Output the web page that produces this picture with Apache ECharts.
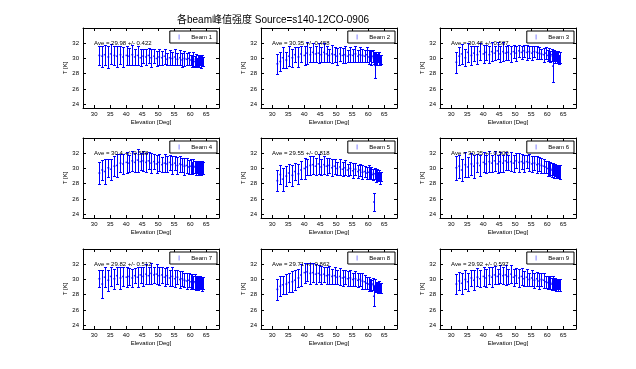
<!DOCTYPE html>
<html><head><meta charset="utf-8">
<script src="https://cdn.jsdelivr.net/npm/echarts@6/dist/echarts.min.js"></script>
<style>html,body{margin:0;padding:0;background:#fff}#c{width:636px;height:369px}</style>
</head><body><div id="c"></div>
<script>
const titleText = '各beam峰值强度 Source=s140-12CO-0906';
const xTicks = [30, 35, 40, 45, 50, 55, 60, 65];
const yTicks = [24, 26, 28, 30, 32];
const beamNames = ['Beam 1','Beam 2','Beam 3','Beam 4','Beam 5','Beam 6','Beam 7','Beam 8','Beam 9'];
const aveTexts = ['Ave = 29.98 +/- 0.422','Ave = 30.35 +/- 0.458','Ave = 30.46 +/- 0.507',
  'Ave = 30.4 +/- 0.558','Ave = 29.55 +/- 0.818','Ave = 30.35 +/- 0.500',
  'Ave = 29.82 +/- 0.512','Ave = 29.71 +/- 0.862','Ave = 29.92 +/- 0.597'];

const elevation = [31.6, 32.5, 33.3, 34.4, 35.2, 36.3, 37.1, 38.2, 39.0, 40.1,
  40.9, 41.9, 42.7, 43.6, 44.5, 45.3, 46.2, 47.0, 47.8, 48.7,
  49.5, 50.3, 51.2, 52.0, 52.8, 53.6, 54.4, 55.2, 56.0, 56.8, 57.5, 58.2,
  58.9, 59.5, 60.1, 60.6, 61.0, 61.4, 61.8, 62.1, 62.4, 62.7, 63.0, 63.3, 63.6, 63.9];

const beam1Center = [30.4, 30.3, 30.5, 30.2, 30.6, 30.4, 30.3, 30.5, 30.2, 30.4,
  30.3, 30.5, 30.2, 30.4, 30.1, 30.3, 30.2, 30.4, 30.1, 30.3,
  30.0, 30.2, 30.1, 30.3, 29.9, 30.1, 30.0, 30.2, 29.9, 30.1, 29.8, 30.0,
  29.9, 30.0, 29.8, 29.7, 29.9, 29.6, 29.8, 29.5, 29.7, 29.6, 29.8, 29.5, 29.7, 29.6];
const beam1Err = [1.2, 1.4, 1.3, 1.5, 1.3, 1.2, 1.4, 1.2, 1.3, 1.2,
  1.1, 1.3, 1.0, 1.2, 1.1, 0.9, 1.1, 1.0, 1.2, 0.9,
  1.0, 1.1, 0.9, 1.0, 0.8, 1.0, 0.9, 1.1, 0.8, 1.0, 0.9, 1.0,
  0.8, 0.9, 0.7, 0.8, 0.9, 0.7, 0.8, 0.6, 0.8, 0.7, 0.6, 0.8, 0.7, 0.6];

const beam2Center = [29.3, 29.6, 30.1, 29.8, 30.3, 30.1, 30.5, 30.2, 30.6, 30.4,
  30.7, 30.5, 30.8, 30.6, 30.7, 30.5, 30.8, 30.6, 30.4, 30.6,
  30.5, 30.3, 30.6, 30.4, 30.5, 30.3, 30.5, 30.4, 30.6, 30.3, 30.5, 30.4,
  30.3, 30.5, 30.2, 30.4, 30.1, 30.3, 30.0, 29.1, 30.1, 29.9, 30.2, 30.0, 29.8, 29.9];
const beam2Err = [1.3, 1.2, 1.4, 1.1, 1.3, 1.2, 1.0, 1.3, 1.1, 1.2,
  1.4, 1.0, 1.2, 1.1, 1.3, 1.0, 1.2, 1.1, 0.9, 1.2,
  1.0, 1.1, 0.9, 1.0, 1.1, 0.8, 1.0, 0.9, 1.1, 0.8, 1.0, 0.9,
  0.8, 1.0, 0.9, 0.7, 0.9, 0.8, 0.7, 1.7, 0.8, 0.7, 0.6, 0.8, 0.7, 0.6];

const beam3Center = [29.5, 30.3, 30.6, 30.1, 30.8, 30.4, 30.7, 30.5, 30.9, 30.6,
  30.8, 30.5, 30.9, 30.7, 31.0, 30.6, 30.9, 30.7, 30.8, 30.6,
  30.9, 30.7, 31.0, 30.8, 31.0, 30.8, 30.9, 30.7, 30.9, 30.8, 30.7, 30.6,
  30.5, 30.7, 30.4, 30.6, 30.3, 30.5, 29.0, 30.4, 30.2, 30.3, 30.1, 30.2, 29.9, 30.1];
const beam3Err = [1.4, 1.2, 1.3, 1.1, 1.2, 1.3, 1.0, 1.2, 1.1, 1.2,
  1.0, 1.1, 1.2, 0.9, 1.1, 1.0, 1.2, 0.9, 1.0, 1.1,
  0.9, 1.0, 0.8, 0.9, 0.8, 1.0, 0.8, 0.9, 0.7, 0.9, 0.8, 0.7,
  0.9, 0.8, 0.7, 0.8, 0.7, 0.8, 2.1, 0.7, 0.8, 0.6, 0.7, 0.8, 0.6, 0.7];

const beam4Center = [29.4, 29.8, 29.6, 30.1, 29.9, 30.3, 30.4, 30.7, 30.6, 30.8,
  30.7, 31.0, 30.8, 31.1, 30.9, 31.0, 30.8, 31.0, 30.7, 30.9,
  30.6, 30.8, 30.5, 30.7, 30.6, 30.8, 30.5, 30.7, 30.4, 30.6, 30.5, 30.3,
  30.4, 30.2, 30.3, 30.1, 30.3, 30.2, 30.1, 30.2, 30.0, 30.2, 30.1, 30.0, 30.2, 30.1];
const beam4Err = [1.5, 1.3, 1.6, 1.2, 1.4, 1.3, 1.5, 1.2, 1.3, 1.4,
  1.1, 1.3, 1.2, 1.5, 1.1, 1.3, 1.2, 1.1, 1.3, 1.0,
  1.2, 1.1, 1.0, 1.2, 1.1, 1.0, 1.2, 0.9, 1.1, 1.0, 0.9, 1.1,
  1.0, 0.9, 1.0, 0.8, 0.9, 0.8, 0.9, 0.8, 0.9, 0.8, 0.8, 0.9, 0.8, 0.8];

const beam5Center = [28.4, 29.2, 28.6, 29.0, 29.4, 29.1, 29.6, 29.3, 29.8, 30.0,
  30.2, 30.4, 30.5, 30.3, 30.6, 30.2, 30.5, 30.3, 30.4, 30.1,
  30.3, 30.0, 30.2, 29.9, 30.1, 29.8, 30.0, 29.7, 29.9, 29.6, 29.8, 29.5,
  29.6, 29.4, 29.5, 29.3, 29.4, 29.2, 25.6, 29.3, 29.0, 29.2, 28.9, 29.1, 28.8, 29.0];
const beam5Err = [1.4, 1.2, 1.5, 1.3, 1.2, 1.4, 1.1, 1.3, 1.2, 1.4,
  1.1, 1.3, 1.2, 1.1, 1.3, 1.0, 1.2, 1.1, 1.0, 1.1,
  1.0, 0.9, 1.0, 0.9, 1.0, 0.8, 0.9, 1.0, 0.8, 0.9, 0.8, 0.9,
  0.7, 0.8, 0.9, 0.7, 0.8, 0.7, 1.2, 0.7, 0.8, 0.7, 0.6, 0.7, 0.8, 0.6];

const beam6Center = [30.1, 30.3, 29.8, 30.5, 30.2, 30.6, 30.3, 30.7, 30.4, 30.8,
  30.6, 30.9, 30.7, 31.0, 30.6, 30.9, 30.7, 31.0, 30.8, 30.9,
  30.7, 31.0, 30.8, 30.9, 30.7, 30.9, 30.8, 30.6, 30.7, 30.5, 30.6, 30.4,
  30.3, 30.2, 30.0, 29.9, 30.0, 29.8, 29.9, 29.7, 29.8, 29.6, 29.7, 29.6, 29.7, 29.5];
const beam6Err = [1.6, 1.5, 1.4, 1.6, 1.3, 1.4, 1.5, 1.2, 1.4, 1.3,
  1.2, 1.4, 1.1, 1.3, 1.2, 1.3, 1.1, 1.2, 1.0, 1.2,
  1.1, 1.0, 1.2, 1.0, 1.1, 0.9, 1.1, 1.0, 0.9, 1.1, 0.9, 1.0,
  0.9, 0.8, 1.0, 0.9, 0.8, 0.9, 0.8, 0.9, 0.8, 0.9, 0.8, 0.9, 0.8, 0.9];

const beam7Center = [30.1, 29.4, 30.3, 29.9, 30.4, 30.1, 30.5, 30.2, 30.4, 30.3,
  30.4, 30.2, 30.5, 30.3, 30.6, 30.4, 30.7, 30.5, 30.8, 30.6,
  30.7, 30.5, 30.6, 30.3, 30.5, 30.2, 30.4, 30.1, 30.3, 30.0, 30.1, 29.9,
  29.8, 29.9, 29.7, 29.8, 29.6, 29.7, 29.5, 29.6, 29.5, 29.7, 29.6, 29.5, 29.4, 29.5];
const beam7Err = [1.1, 1.8, 1.3, 1.4, 1.2, 1.3, 1.1, 1.4, 1.2, 1.3,
  1.1, 1.2, 1.0, 1.3, 1.1, 1.2, 1.3, 1.1, 1.4, 1.1,
  1.3, 1.2, 1.0, 1.2, 1.1, 1.0, 1.2, 1.1, 0.9, 1.1, 1.0, 0.9,
  1.0, 0.9, 1.0, 0.9, 0.8, 1.0, 0.9, 0.8, 0.9, 0.8, 0.9, 0.8, 0.9, 0.8];

const beam8Center = [28.7, 29.1, 29.3, 29.4, 29.6, 29.7, 29.9, 30.2, 30.6, 30.9,
  31.0, 30.8, 30.9, 30.7, 30.8, 30.6, 30.7, 30.5, 30.6, 30.4,
  30.5, 30.3, 30.4, 30.2, 30.3, 30.1, 30.2, 30.0, 30.1, 29.9, 30.0, 29.8,
  29.7, 29.5, 29.4, 29.3, 29.2, 29.4, 27.8, 29.2, 29.0, 29.1, 28.9, 29.0, 28.8, 28.9];
const beam8Err = [1.4, 1.3, 1.2, 1.3, 1.2, 1.4, 1.3, 1.2, 1.4, 1.3,
  1.2, 1.4, 1.2, 1.3, 1.1, 1.2, 1.0, 1.1, 1.2, 1.0,
  1.1, 0.9, 1.1, 1.0, 0.9, 1.0, 1.1, 0.9, 1.0, 0.9, 0.8, 1.0,
  0.9, 0.8, 0.9, 0.8, 0.7, 0.8, 1.3, 0.8, 0.7, 0.6, 0.7, 0.8, 0.6, 0.7];

const beam9Center = [29.4, 29.8, 29.5, 30.0, 29.7, 30.2, 29.9, 30.3, 30.1, 30.4,
  30.2, 30.5, 30.3, 30.6, 30.4, 30.7, 30.5, 30.6, 30.4, 30.7,
  30.3, 30.5, 30.2, 30.4, 30.1, 30.3, 30.0, 30.2, 29.9, 30.1, 29.8, 30.0,
  29.9, 29.7, 29.6, 29.5, 29.6, 29.4, 29.5, 29.4, 29.5, 29.3, 29.4, 29.3, 29.4, 29.3];
const beam9Err = [1.3, 1.2, 1.4, 1.3, 1.2, 1.1, 1.3, 1.2, 1.1, 1.3,
  1.2, 1.1, 1.3, 1.2, 1.0, 1.2, 1.1, 1.3, 1.0, 1.2,
  1.1, 1.0, 1.2, 1.1, 1.0, 1.1, 0.9, 1.1, 1.0, 0.9, 1.0, 0.9,
  1.0, 0.8, 0.9, 0.8, 0.9, 0.8, 0.9, 0.8, 0.7, 0.8, 0.7, 0.8, 0.7, 0.8];

const centers = [beam1Center, beam2Center, beam3Center, beam4Center, beam5Center, beam6Center, beam7Center, beam8Center, beam9Center];
const errs = [beam1Err, beam2Err, beam3Err, beam4Err, beam5Err, beam6Err, beam7Err, beam8Err, beam9Err];

const BLUE = '#0000ff';
const FONT = '"Liberation Sans", Arial, sans-serif';
const lefts = [83, 261, 440], tops = [28, 138, 249], W = 136, H = 80;

const grid = [], xAxis = [], yAxis = [], series = [], legend = [], graphic = [];
graphic.push({type:'text', x:177, y:20, style:{text:titleText, fontSize:10,
  fontFamily:'"Liberation Sans","Noto Sans CJK SC",sans-serif', fill:'#000', verticalAlign:'middle'}});

function errRender(params, api) {
  const x = api.value(0), lo = api.value(1), hi = api.value(2);
  const t = api.coord([x, hi]), b = api.coord([x, lo]);
  const px = Math.round(t[0]) + 0.5, ty = Math.round(t[1]) + 0.5, by = Math.round(b[1]) + 0.5;
  const cw = 1.5;
  const st = {stroke: BLUE, lineWidth: 1};
  return {type:'group', children:[
    {type:'line', shape:{x1:px, y1:ty, x2:px, y2:by}, style:st},
    {type:'line', shape:{x1:px-cw, y1:ty, x2:px+cw, y2:ty}, style:st},
    {type:'line', shape:{x1:px-cw, y1:by, x2:px+cw, y2:by}, style:st}
  ]};
}

for (let i = 0; i < 9; i++) {
  const r = Math.floor(i / 3), c = i % 3;
  const L = lefts[c], T = tops[r];
  grid.push({left:L, top:T, width:W, height:H, show:false});
  const axLine = {show:true, onZero:false, lineStyle:{color:'#000', width:1}};
  const tick = (vals) => ({show:true, inside:true, length:3, customValues:vals, lineStyle:{color:'#000', width:1}});
  xAxis.push({gridIndex:i, type:'value', min:26.5, max:69, position:'bottom',
    axisLine:axLine, axisTick:tick(xTicks), splitLine:{show:false},
    axisLabel:{show:true, customValues:xTicks, fontSize:6, fontFamily:FONT, color:'#000', margin:3},
    name:'Elevation [Deg]', nameLocation:'middle', nameGap:11,
    nameTextStyle:{fontSize:6, fontFamily:FONT, color:'#000'}});
  xAxis.push({gridIndex:i, type:'value', min:26.5, max:69, position:'top',
    axisLine:axLine, axisTick:tick(xTicks), splitLine:{show:false}, axisLabel:{show:false}});
  yAxis.push({gridIndex:i, type:'value', min:23.5, max:34, position:'left',
    axisLine:axLine, axisTick:tick(yTicks), splitLine:{show:false},
    axisLabel:{show:true, customValues:yTicks, fontSize:6, fontFamily:FONT, color:'#000', margin:4},
    name:'T [K]', nameLocation:'middle', nameGap:12.5,
    nameTextStyle:{fontSize:6, fontFamily:FONT, color:'#000'}});
  yAxis.push({gridIndex:i, type:'value', min:23.5, max:34, position:'right',
    axisLine:axLine, axisTick:tick(yTicks), splitLine:{show:false}, axisLabel:{show:false}});

  const barData = elevation.map((x, k) => [x, centers[i][k] - errs[i][k], centers[i][k] + errs[i][k]]);
  const ptData = elevation.map((x, k) => [x, centers[i][k]]);
  series.push({type:'custom', name:beamNames[i], xAxisIndex:2*i, yAxisIndex:2*i,
    renderItem:errRender, data:barData, encode:{x:0, y:[1,2]}, itemStyle:{color:BLUE}, silent:true, clip:true});
  series.push({type:'scatter', name:beamNames[i], xAxisIndex:2*i, yAxisIndex:2*i,
    data:ptData, symbol:'rect', symbolSize:[2, 1.5], itemStyle:{color:BLUE}, silent:true});

  legend.push({data:[{name:beamNames[i], icon:'path://M0,0h1v10h-1z'}],
    right:636 - (L + W - 2), top:T + 3, orient:'vertical',
    padding:[3, 5, 3, 9], itemWidth:1.2, itemHeight:5, selectedMode:false,
    backgroundColor:'#fff', borderColor:'#000', borderWidth:1, borderRadius:0,
    itemStyle:{color:BLUE},
    formatter: (n) => '    ' + n,
    textStyle:{fontSize:6, fontFamily:FONT, color:'#000'}});

  graphic.push({type:'text', x:L + 11, y:T + 15, z:100,
    style:{text:aveTexts[i], fontSize:6, fontFamily:FONT, fill:'#000', verticalAlign:'middle'}});
}

const chart = echarts.init(document.getElementById('c'));
chart.setOption({animation:false, backgroundColor:'#fff', grid, xAxis, yAxis, series, legend, graphic});
</script>
</body></html>
